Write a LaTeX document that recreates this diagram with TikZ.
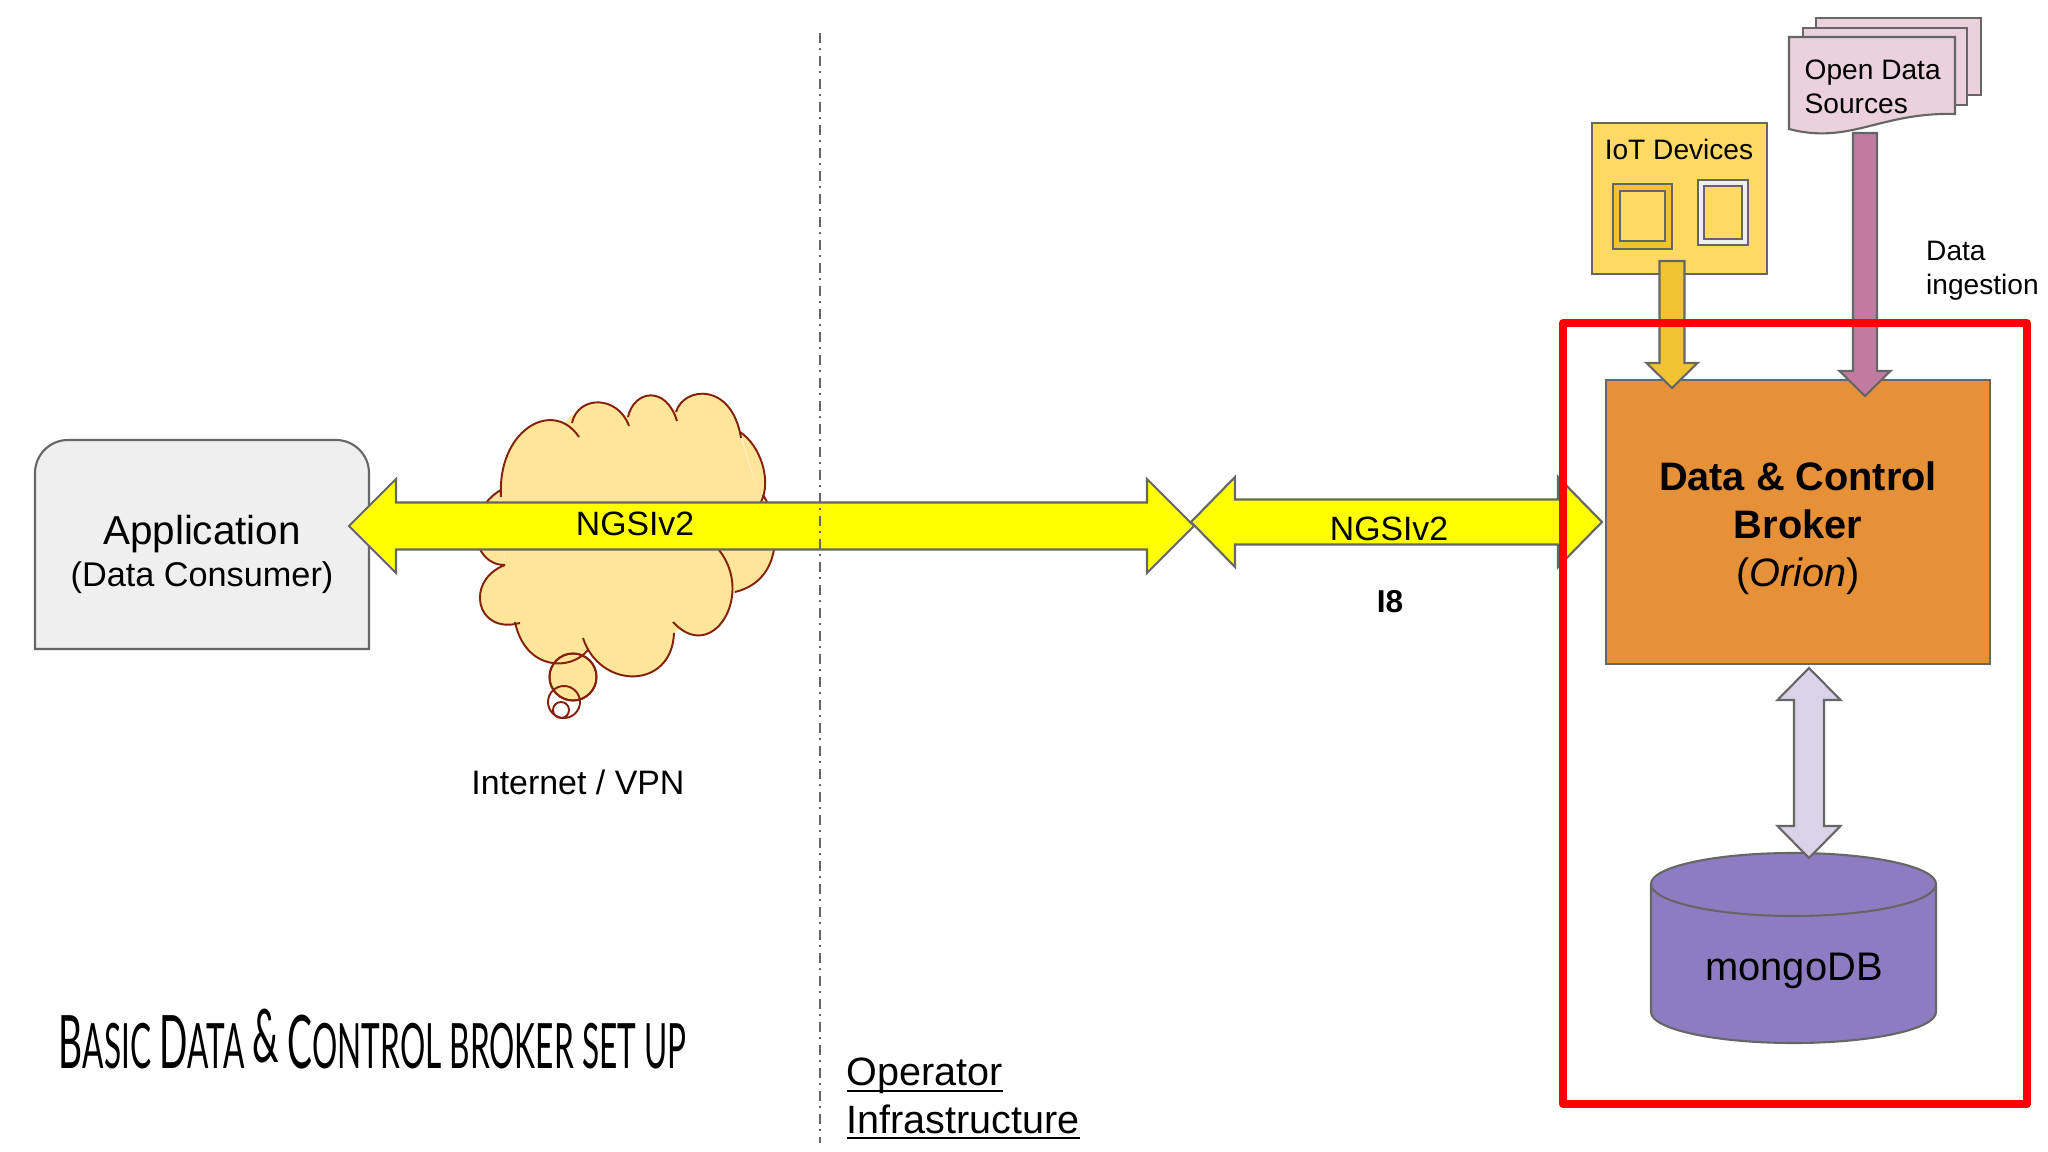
\documentclass[tikz,border=0pt]{standalone}
\usepackage{fontspec}
\setmainfont{Liberation Sans}
\newfontfamily\titlefont[FakeStretch=0.505]{Lato}
\usetikzlibrary{calc}

\definecolor{edgegrey}{HTML}{666666}
\definecolor{appgrey}{HTML}{EFEFEF}
\definecolor{iotyellow}{HTML}{FFD966}
\definecolor{iotgold}{HTML}{F1C232}
\definecolor{docpink}{HTML}{EAD1DC}
\definecolor{feedpink}{HTML}{C27BA0}
\definecolor{brokerorange}{HTML}{E69138}
\definecolor{dblilac}{HTML}{D9D2E9}
\definecolor{dbpurple}{HTML}{8E7CC3}
\definecolor{cloudfill}{HTML}{FFE599}
\definecolor{cloudedge}{HTML}{85200C}
\definecolor{linkyellow}{HTML}{FFFF00}

\newcommand{\tcap}[1]{{\fontsize{21}{21}\selectfont #1}}
\newcommand{\cloudlobes}{
  (5.01,-4.97) .. controls (4.97,-4.30) and (5.53,-3.98) .. (5.79,-4.37)
  (5.72,-4.23) .. controls (5.78,-3.95) and (6.18,-3.95) .. (6.29,-4.26)
  (6.28,-4.17) .. controls (6.34,-3.90) and (6.66,-3.85) .. (6.77,-4.21)
  (6.76,-4.12) .. controls (6.84,-3.86) and (7.32,-3.82) .. (7.41,-4.38)
  (7.40,-4.32) .. controls (7.60,-4.45) and (7.72,-4.80) .. (7.61,-5.02)
  (7.63,-4.95) .. controls (7.80,-5.20) and (7.85,-5.80) .. (7.35,-5.92)
  (7.19,-5.50) .. controls (7.55,-5.95) and (7.12,-6.65) .. (6.73,-6.22)
  (6.74,-6.33) .. controls (6.72,-6.90) and (6.00,-6.90) .. (5.83,-6.38)
  (5.88,-6.50) .. controls (5.70,-6.72) and (5.25,-6.70) .. (5.15,-6.22)
  (5.20,-6.23) .. controls (4.75,-6.35) and (4.65,-5.80) .. (5.05,-5.65)
  (5.05,-5.65) .. controls (4.70,-5.65) and (4.65,-5.10) .. (5.01,-4.90)
}

\tikzset{
  textlabel/.style={inner sep=0pt,font=\fontsize{8}{9.7}\selectfont},
  boxline/.style={draw=edgegrey,line width=0.6pt},
  cloudline/.style={draw=cloudedge,line width=0.55pt},
  oneblock/.style n args={3}{to path={
      ($(\tikztostart)!#1!90:(\tikztotarget)$)
      -- ($(\tikztotarget)!#3!(\tikztostart)!#1!90:(\tikztotarget)$)
      -- ($(\tikztotarget)!#3!(\tikztostart)!#2!90:(\tikztotarget)$)
      -- (\tikztotarget)
      -- ($(\tikztotarget)!#3!(\tikztostart)!#2!-90:(\tikztotarget)$)
      -- ($(\tikztotarget)!#3!(\tikztostart)!#1!-90:(\tikztotarget)$)
      -- ($(\tikztostart)!#1!-90:(\tikztotarget)$) -- cycle}},
  twoblock/.style n args={3}{to path={
      (\tikztostart)
      -- ($(\tikztostart)!#3!(\tikztotarget)!#2!90:(\tikztotarget)$)
      -- ($(\tikztostart)!#3!(\tikztotarget)!#1!90:(\tikztotarget)$)
      -- ($(\tikztotarget)!#3!(\tikztostart)!#1!90:(\tikztotarget)$)
      -- ($(\tikztotarget)!#3!(\tikztostart)!#2!90:(\tikztotarget)$)
      -- (\tikztotarget)
      -- ($(\tikztotarget)!#3!(\tikztostart)!#2!-90:(\tikztotarget)$)
      -- ($(\tikztotarget)!#3!(\tikztostart)!#1!-90:(\tikztotarget)$)
      -- ($(\tikztostart)!#3!(\tikztotarget)!#1!-90:(\tikztotarget)$)
      -- ($(\tikztostart)!#3!(\tikztotarget)!#2!-90:(\tikztotarget)$)
      -- cycle}}
}

\begin{document}
\begin{tikzpicture}
\useasboundingbox (0,0) rectangle (20.48,-11.52);
\fill[white] (0,0) rectangle (20.48,-11.52);

% application
\draw[boxline,fill=appgrey] (0.35,-6.49) -- (0.35,-4.73) arc (180:90:0.33) -- (3.36,-4.40) arc (90:0:0.33) -- (3.69,-6.49) -- cycle;
\node[inner sep=0pt,anchor=base,font=\fontsize{11.5}{13}\selectfont] (application) at (2.02,-5.45) {Application};
\node[inner sep=0pt,anchor=base,font=\fontsize{9.75}{12}\selectfont] (consumer) at (2.02,-5.87) {(Data Consumer)};

% cloud
\fill[cloudfill] (5.01,-4.97) -- (5.72,-4.15) -- (6.29,-4.15) -- (6.76,-4.10) -- (7.41,-4.38) -- (7.61,-5.02) -- (7.35,-5.92) -- (6.74,-6.33) -- (5.88,-6.50) -- (5.15,-6.22) -- (5.05,-5.65) -- cycle;
\fill[cloudfill] \cloudlobes;
\filldraw[fill=cloudfill,cloudline] (5.73,-6.77) circle (0.235);
\draw[cloudline] (5.73,-6.77) circle (0.235) (5.64,-7.02) circle (0.16) (5.61,-7.10) circle (0.08);
\draw[cloudline] \cloudlobes;
\node[inner sep=0pt,anchor=base,font=\fontsize{9.65}{11}\selectfont] (internet) at (5.78,-7.95) {Internet / VPN};

% broker and friends
\node[boxline,fill=brokerorange,minimum width=3.84cm,minimum height=2.84cm,inner sep=0pt] (broker) at (17.98,-5.22) {};
\node[inner sep=0pt,align=center,font=\fontsize{11.3}{13.7}\selectfont] (brokertext) at (17.98,-5.28) {\textbf{Data \& Control}\\\textbf{Broker}\\(\textit{Orion})};

\node[boxline,fill=iotyellow,minimum width=1.75cm,minimum height=1.51cm,inner sep=0pt] (iot) at (16.795,-1.985) {};
\node[textlabel,anchor=base] (iottext) at (16.79,-1.60) {IoT Devices};
\draw[boxline,fill=iotgold] (16.13,-1.84) rectangle (16.72,-2.49);
\draw[boxline,fill=iotyellow] (16.20,-1.91) rectangle (16.65,-2.41);
\draw[boxline,fill=appgrey] (16.98,-1.80) rectangle (17.48,-2.45);
\draw[boxline,fill=iotyellow] (17.04,-1.86) rectangle (17.42,-2.39);

% stack of documents
\draw[boxline,fill=docpink] (18.16,-0.18) rectangle (19.81,-0.95);
\draw[boxline,fill=docpink] (18.03,-0.28) rectangle (19.67,-1.05);
\draw[boxline,fill=docpink] (17.89,-0.37) -- (19.55,-0.37) -- (19.55,-1.14) .. controls (18.80,-1.12) and (18.50,-1.45) .. (17.89,-1.29) -- cycle;
\node[textlabel,anchor=base west] (opendata) at (18.04,-0.80) {Open Data};
\node[textlabel,anchor=base west] (sources) at (18.04,-1.14) {Sources};
\node[textlabel,anchor=base west] (datalabel) at (19.255,-2.61) {Data};
\node[textlabel,anchor=base west] (ingestion) at (19.255,-2.95) {ingestion};

% database
\draw[boxline,fill=dbpurple] (16.51,-8.84) -- (16.51,-10.12) arc (180:360:1.425 and 0.31) -- (19.36,-8.84) arc (0:180:1.425 and 0.31);
\draw[boxline] (16.51,-8.84) arc (180:360:1.425 and 0.32);
\node[inner sep=0pt,anchor=base,font=\fontsize{11.35}{13}\selectfont] (mongodb) at (17.94,-9.80) {mongoDB};

% block arrows
\coordinate (append) at (3.49,-5.26);
\coordinate (midend) at (11.94,-5.26);
\coordinate (gateend) at (11.91,-5.22);
\coordinate (brokerend) at (16.02,-5.22);
\coordinate (iotend) at (16.72,-2.61);
\coordinate (iotarrow) at (16.72,-3.88);
\coordinate (docend) at (18.65,-1.33);
\coordinate (docarrow) at (18.65,-3.96);
\coordinate (dbtop) at (18.09,-6.68);
\coordinate (dbbottom) at (18.09,-8.58);

\draw[boxline,fill=linkyellow] (append) to[twoblock={0.235cm}{0.47cm}{0.47cm}] (midend);
\draw[boxline,fill=linkyellow] (gateend) to[twoblock={0.225cm}{0.45cm}{0.44cm}] (brokerend);
\draw[boxline,fill=iotgold] (iotend) to[oneblock={0.125cm}{0.255cm}{0.25cm}] (iotarrow);
\draw[boxline,fill=feedpink] (docend) to[oneblock={0.12cm}{0.255cm}{0.25cm}] (docarrow);
\draw[boxline,fill=dblilac] (dbtop) to[twoblock={0.15cm}{0.315cm}{0.32cm}] (dbbottom);

\node[inner sep=0pt,anchor=base,font=\fontsize{9.6}{11}\selectfont] (ngsileft) at (6.35,-5.35) {NGSIv2};
\node[inner sep=0pt,anchor=base,font=\fontsize{9.6}{11}\selectfont] (ngsiright) at (13.89,-5.41) {NGSIv2};
\node[inner sep=0pt,anchor=base,font=\fontsize{9}{11}\selectfont\bfseries] (ieight) at (13.90,-6.13) {I8};

% boundary
\draw[edgegrey,line width=0.5pt,dash pattern=on 0.1cm off 0.055cm on 0.02cm off 0.055cm] (8.20,-0.33) -- (8.20,-11.43);
\draw[red,line width=2.3pt,line join=round] (15.63,-3.23) rectangle (20.27,-11.04);

\node[inner sep=0pt,anchor=base west,align=left,font=\fontsize{11.25}{13.4}\selectfont] (operator) at (8.46,-11.33) {\underline{\smash{Operator}}\\\underline{\smash{Infrastructure}}};

\node[inner sep=0pt,anchor=base west,font=\titlefont\fontsize{17.8}{20}\selectfont] (title) at (0.58,-10.68) {\tcap{B}ASIC \tcap{D}ATA \raisebox{0.06cm}{\tcap{\&}} \tcap{C}ONTROL BROKER SET UP};
\end{tikzpicture}
\end{document}
